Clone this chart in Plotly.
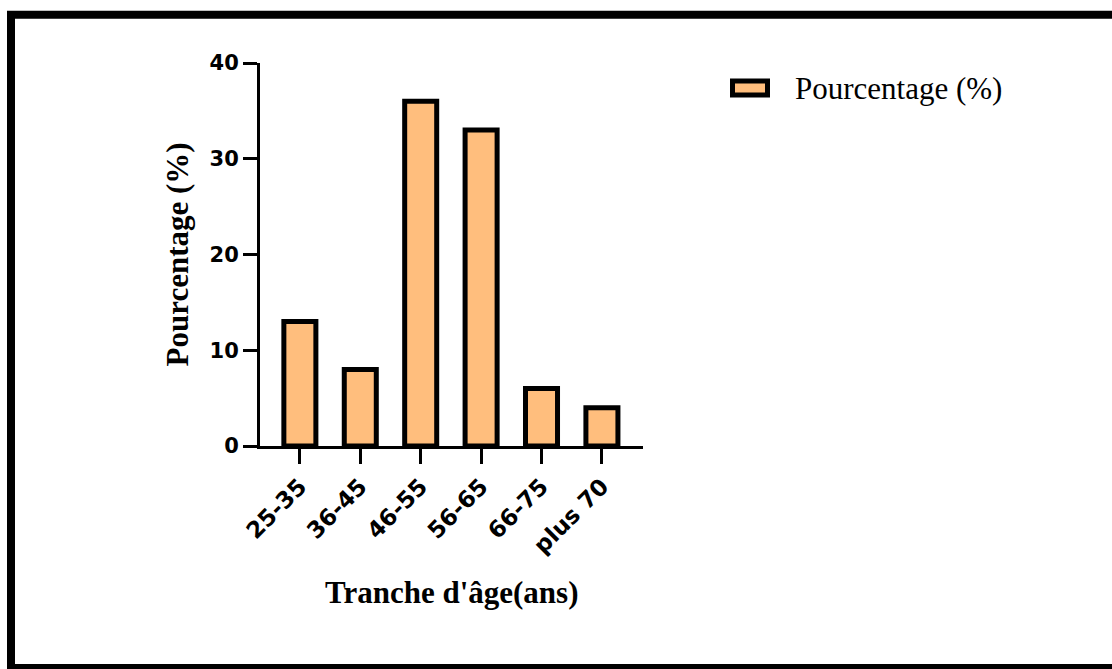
import plotly.graph_objects as go

categories = ["25-35", "36-45", "46-55", "56-65", "66-75", "plus 70"]
values = [13, 8, 36, 33, 6, 4]
y_ticks = [0, 10, 20, 30, 40]
series_name = "Pourcentage (%)"
x_title = "Tranche d'âge(ans)"
y_title = "Pourcentage (%)"

W, H = 1112, 669
ML, MT = 260, 62.5
PW, PH = 383, 384
MR = W - ML - PW
MB = H - MT - PH


def px(x):
    return (x - ML) / PW


def py(y):
    return (MT + PH - y) / PH


fill = "#FFBE7D"

fig = go.Figure()
fig.add_trace(go.Bar(
    x=categories, y=values, name=series_name,
    marker=dict(color=fill, line=dict(color="black", width=5)),
    showlegend=False,
))

fig.update_layout(
    width=W, height=H,
    margin=dict(l=ML, r=MR, t=MT, b=MB, pad=0),
    paper_bgcolor="white", plot_bgcolor="white",
    bargap=0.47,
    font=dict(family="DejaVu Sans", color="black"),
)
fig.update_xaxes(
    type="category", range=[-0.66, 5.68],
    showline=True, linecolor="black", linewidth=3,
    ticks="outside", ticklen=15, tickwidth=3, tickcolor="black",
    tickangle=-45, showgrid=False, zeroline=False,
    tickfont=dict(family="DejaVu Sans", size=23, color="black", weight="bold"),
)
fig.update_yaxes(
    range=[0, 40], tickvals=y_ticks,
    showline=True, linecolor="black", linewidth=3,
    ticks="outside", ticklen=14, tickwidth=3, tickcolor="black",
    showgrid=False, zeroline=False,
    tickfont=dict(family="DejaVu Sans", size=21, color="black", weight="bold"),
)

# outer frame
fig.add_shape(type="rect", xref="paper", yref="paper",
              x0=px(11), x1=px(1125), y0=py(669), y1=py(14),
              line=dict(color="black", width=8), fillcolor="rgba(0,0,0,0)", layer="above")

# custom legend
fig.add_shape(type="rect", xref="paper", yref="paper",
              x0=px(732.5), x1=px(767.5), y0=py(94.5), y1=py(80.5),
              line=dict(color="black", width=5), fillcolor=fill)
fig.add_annotation(text=series_name, xref="paper", yref="paper",
                   x=px(793), y=py(88), xanchor="left", yanchor="middle",
                   showarrow=False,
                   font=dict(family="Liberation Serif", size=31, color="black"))

# axis titles
fig.add_annotation(text="<b>" + x_title + "</b>", xref="paper", yref="paper",
                   x=0.5, y=py(593), xanchor="center", yanchor="middle",
                   showarrow=False,
                   font=dict(family="Liberation Serif", size=31, color="black"))
fig.add_annotation(text="<b>" + y_title + "</b>", xref="paper", yref="paper",
                   x=px(177), y=0.5, xanchor="center", yanchor="middle",
                   textangle=-90, showarrow=False,
                   font=dict(family="Liberation Serif", size=31, color="black"))

fig.write_html("out.html", config={"displayModeBar": False},
               post_script="document.body.style.margin='0';")
